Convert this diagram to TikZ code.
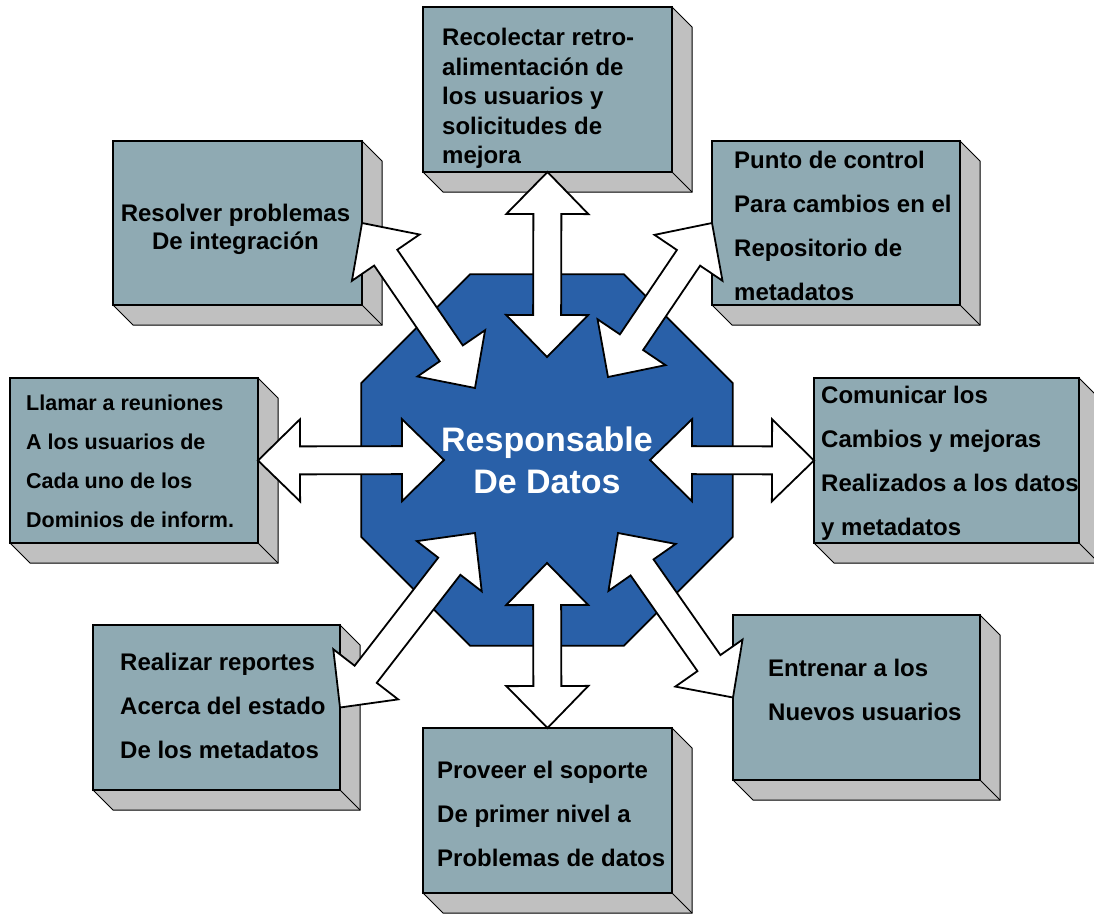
\documentclass[tikz,border=0pt]{standalone}
\usepackage{fontspec}
\setmainfont{Liberation Sans}
\usetikzlibrary{calc,positioning,shapes.geometric,backgrounds}

\definecolor{panelfill}{RGB}{143,170,179}
\definecolor{sidegray}{RGB}{192,192,192}
\definecolor{hubblue}{RGB}{41,96,168}

% extruded right and bottom faces of a panel
\newcommand{\panelside}[1]{%
  \filldraw[side] (#1.north east) -- ([shift={(20,20)}]#1.north east)
    -- ([shift={(20,20)}]#1.south east) -- ([shift={(20,20)}]#1.south west)
    -- (#1.south west) -- (#1.south east) -- cycle;
  \draw[side] (#1.south east) -- ([shift={(20,20)}]#1.south east);}

% white block arrow with a head at both ends
\newcommand{\dblarrow}[2]{%
  \draw[bigarrow] (#1)
    -- ($($(#1)!42pt!(#2)$)!41pt!90:(#2)$)
    -- ($($(#1)!42pt!(#2)$)!14pt!90:(#2)$)
    -- ($($(#2)!42pt!(#1)$)!14pt!-90:(#1)$)
    -- ($($(#2)!42pt!(#1)$)!41pt!-90:(#1)$)
    -- (#2)
    -- ($($(#2)!42pt!(#1)$)!41pt!90:(#1)$)
    -- ($($(#2)!42pt!(#1)$)!14pt!90:(#1)$)
    -- ($($(#1)!42pt!(#2)$)!14pt!-90:(#2)$)
    -- ($($(#1)!42pt!(#2)$)!41pt!-90:(#2)$)
    -- cycle;}

\begin{document}
\begin{tikzpicture}[x=1pt, y=-1pt,
		panel/.style={
			draw=black,
			line width=1.4pt,
			fill=panelfill,
			anchor=north west,
			minimum width=249pt,
			minimum height=165pt,
			inner sep=0pt,
			outer sep=0pt
		},
		paneltext/.style={
			inner sep=0pt,
			align=left,
			text=black,
			font=\bfseries\fontsize{24}{44}\selectfont
		},
		side/.style={draw=black, line width=1pt, fill=sidegray},
		hub/.style={
			regular polygon,
			regular polygon sides=8,
			minimum size=402pt,
			inner sep=0pt,
			outer sep=0pt,
			draw=black,
			line width=1.8pt,
			fill=hubblue,
			text=white,
			align=center,
			font=\bfseries\fontsize{34}{42}\selectfont
		},
		bigarrow/.style={draw=black, line width=1.8pt, fill=white, line join=miter}
		]
		\useasboundingbox (0,0) rectangle (1094,913);
		
		% Central role
		\node[hub] (hub) at (547,460) {Responsable\\De Datos};
		
		% Task panels
		\node[panel] (rec) at (423,7) {};
		\node[panel, minimum height=164pt] (tl) at (113,141) {};
		\node[panel, minimum width=248pt, minimum height=164pt] (tr) at (712,141) {};
		\node[panel, minimum width=248pt] (lft) at (10,378) {};
		\node[panel, minimum width=265pt] (rgt) at (814,378) {};
		\node[panel, minimum width=247pt] (bl) at (93,625) {};
		\node[panel] (bot) at (423,728) {};
		\node[panel, minimum width=247pt] (br) at (733,615) {};
		
		\begin{scope}[on background layer]
			\foreach \p in {rec,tl,tr,lft,rgt,bl,bot,br} {\panelside{\p}}
		\end{scope}
		
		% Panel texts
		\node[paneltext, font=\bfseries\fontsize{24}{29.5}\selectfont, right=19pt of rec.west, yshift=-9pt] (rec-t)
		{Recolectar retro-\\alimentación de\\los usuarios y\\solicitudes de\\mejora};
		\node[paneltext, align=center, font=\bfseries\fontsize{24}{28}\selectfont, xshift=-2pt, yshift=-6pt] (tl-t) at (tl.center)
		{Resolver problemas\\De integración};
		\node[paneltext, right=22pt of tr.west, yshift=-3pt] (tr-t)
		{Punto de control\\Para cambios en el\\Repositorio de\\metadatos};
		\node[paneltext, font=\bfseries\fontsize{21.5}{39}\selectfont, right=16pt of lft.west, yshift=-1pt] (lft-t)
		{Llamar a reuniones\\A los usuarios de\\Cada uno de los\\Dominios de inform.};
		\node[paneltext, right=7pt of rgt.west, yshift=-3pt] (rgt-t)
		{Comunicar los\\Cambios y mejoras\\Realizados a los datos\\y metadatos};
		\node[paneltext, right=27pt of bl.west, yshift=2pt] (bl-t)
		{Realizar reportes\\Acerca del estado\\De los metadatos};
		\node[paneltext, right=14pt of bot.west, yshift=-3pt] (bot-t)
		{Proveer el soporte\\De primer nivel a\\Problemas de datos};
		\node[paneltext, right=35pt of br.west, yshift=8pt] (br-t)
		{Entrenar a los\\Nuevos usuarios};
		
		% Arrow tips inside the octagon
		\coordinate (hn) at ($(hub.center)+(0,-103)$);
		\coordinate (hnw) at ($(hub.center)+(-72,-72)$);
		\coordinate (hne) at ($(hub.center)+(61,-83)$);
		\coordinate (hw) at ($(hub.center)+(-103,0)$);
		\coordinate (he) at ($(hub.center)+(103,0)$);
		\coordinate (hsw) at ($(hub.center)+(-72,73)$);
		\coordinate (hs) at ($(hub.center)+(0,103)$);
		\coordinate (hse) at ($(hub.center)+(71,73)$);
		
		% Arrows
		\dblarrow{rec.south}{hn}
		\dblarrow{tl.east}{hnw}
		\dblarrow{tr.west}{hne}
		\dblarrow{lft.east}{hw}
		\dblarrow{rgt.west}{he}
		\dblarrow{bl.east}{hsw}
		\dblarrow{bot.north}{hs}
		\dblarrow{br.west}{hse}
		
	\end{tikzpicture}
\end{document}
